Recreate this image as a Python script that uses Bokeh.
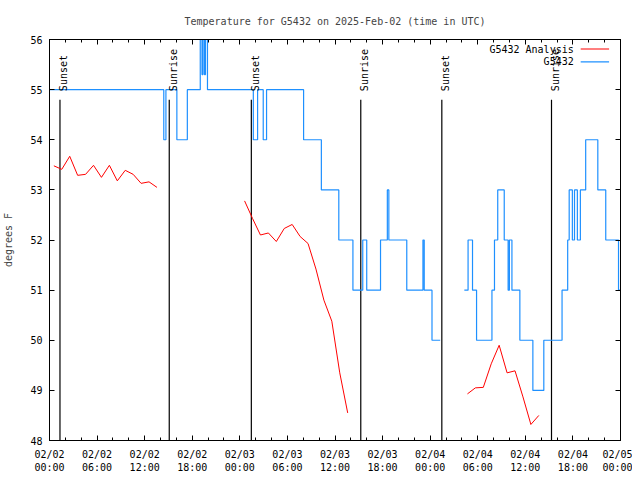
import math
from bokeh.plotting import figure
from bokeh.models import FixedTicker, LinearAxis, Label, Range1d
from bokeh.embed import file_html
from bokeh.resources import INLINE

# ---- data (time in hours since 2025-02-02 00:00 UTC) ----
tick_hours = [0, 6, 12, 18, 24, 30, 36, 42, 48, 54, 60, 66, 72]
tick_dates = ["02/02", "02/02", "02/02", "02/02", "02/03", "02/03", "02/03",
              "02/03", "02/04", "02/04", "02/04", "02/04", "02/05"]
tick_times = ["00:00", "06:00", "12:00", "18:00", "00:00", "06:00", "12:00",
              "18:00", "00:00", "06:00", "12:00", "18:00", "00:00"]
minor_hours = list(range(0, 73, 2))
y_ticks = [48, 49, 50, 51, 52, 53, 54, 55, 56]

# observations G5432 (step changes: time, value)
obs_t1 = [0.00, 14.41, 14.68, 16.06, 17.38, 19.01, 19.23, 19.35, 19.54, 19.67,
          19.92, 25.70, 26.24, 26.95, 27.37, 32.04, 34.28, 36.48, 38.26, 39.50,
          40.00, 41.74, 42.60, 42.79, 45.05, 47.09, 47.25, 48.23, 49.26]
obs_v1 = [55, 54, 55, 54, 55, 57, 55.3, 57, 55.3, 57,
          55, 54, 55, 54, 55, 54, 53, 52, 51, 52,
          51, 52, 53, 52, 51, 52, 51, 50, 50]
obs_t2 = [52.31, 52.78, 53.34, 53.85, 55.79, 56.11, 56.52, 57.34, 57.83, 57.99,
          58.31, 59.31, 60.95, 62.33, 64.63, 65.34, 65.53, 65.93, 66.20, 66.56,
          66.94, 67.61, 69.14, 70.14, 71.75, 72.00]
obs_v2 = [51, 52, 51, 50, 51, 52, 53, 52, 51, 52,
          51, 50, 49, 50, 51, 52, 53, 52, 53, 52,
          53, 54, 53, 52, 51, 51]

# analysis G5432 Analysis (hourly)
ana_t1 = [0.55, 1.55, 2.55, 3.55, 4.55, 5.55, 6.55, 7.55, 8.55, 9.55, 10.55,
          11.55, 12.55, 13.55]
ana_v1 = [53.48, 53.41, 53.67, 53.29, 53.31, 53.49, 53.25, 53.49, 53.18, 53.39,
          53.31, 53.13, 53.16, 53.05]
ana_t2 = [24.6, 25.6, 26.6, 27.6, 28.6, 29.6, 30.6, 31.6, 32.6, 33.6, 34.6,
          35.6, 36.6, 37.6]
ana_v2 = [52.78, 52.43, 52.10, 52.14, 51.97, 52.23, 52.31, 52.07, 51.93, 51.42,
          50.80, 50.38, 49.35, 48.55]
ana_t3 = [52.7, 53.7, 54.7, 55.7, 56.7, 57.7, 58.7, 59.7, 60.7, 61.7]
ana_v3 = [48.93, 49.05, 49.06, 49.53, 49.90, 49.35, 49.39, 48.87, 48.32, 48.50]

sun_t = [1.32, 15.10, 25.45, 39.25, 49.47, 63.30]
sun_lbl = ["Sunset", "Sunrise", "Sunset", "Sunrise", "Sunset", "Sunrise"]

FONT = "DejaVu Sans Mono"
FS = "10px"
RED = "#ff0000"
BLUE = "#1e90ff"

p = figure(width=632, height=475, output_backend="svg", toolbar_location=None,
           x_range=Range1d(0, 72), y_range=Range1d(48, 56),
           min_border_left=46, min_border_right=12, min_border_top=39,
           min_border_bottom=33,
           title="Temperature for G5432 on 2025-Feb-02 (time in UTC)")
p.title.text_font = FONT
p.title.text_font_size = FS
p.title.text_font_style = "normal"
p.title.align = "center"
p.title.standoff = 25

p.xgrid.visible = False
p.ygrid.visible = False
p.outline_line_color = "black"
p.outline_line_width = 1
p.background_fill_color = "white"
p.border_fill_color = "white"

xt = FixedTicker(ticks=tick_hours, minor_ticks=minor_hours)
yt = FixedTicker(ticks=y_ticks, minor_ticks=[])

bottom = p.xaxis[0]
left = p.yaxis[0]
bottom.ticker = xt
bottom.major_label_overrides = {h: d + "\n" + t for h, d, t in zip(tick_hours, tick_dates, tick_times)}
bottom.major_label_standoff = 8
bottom.major_label_text_font_size = FS
left.ticker = yt
left.axis_label = "degrees F"
left.axis_label_standoff = 13
left.major_label_standoff = 7
left.major_label_text_font_size = FS

top = LinearAxis(ticker=xt, major_label_overrides={h: "" for h in tick_hours},
                 major_label_text_font_size="1px", major_label_text_color=None,
                 major_label_standoff=0)
right = LinearAxis(ticker=yt, major_label_overrides={v: "" for v in y_ticks},
                   major_label_text_font_size="1px", major_label_text_color=None,
                   major_label_standoff=0)
p.add_layout(top, "above")
p.add_layout(right, "right")

for ax in (bottom, left, top, right):
    ax.axis_line_color = "black"
    ax.major_tick_in = 5
    ax.major_tick_out = 0
    ax.minor_tick_in = 3
    ax.minor_tick_out = 0
    ax.major_tick_line_color = "black"
    ax.minor_tick_line_color = "black"
    ax.major_label_text_font = FONT
    ax.axis_label_text_font = FONT
    ax.axis_label_text_font_size = FS
    ax.axis_label_text_font_style = "normal"
for ax in (bottom, left):
    ax.major_label_text_color = "black"

# sunrise / sunset markers
p.segment(x0=sun_t, y0=[48] * len(sun_t), x1=sun_t, y1=[54.8] * len(sun_t),
          line_color="black", line_width=1.2)
for t, s in zip(sun_t, sun_lbl):
    p.add_layout(Label(x=t, y=54.97, text=s, angle=math.pi / 2, text_font=FONT,
                       text_font_size=FS, text_align="left",
                       text_baseline="alphabetic", x_offset=4,
                       text_color="black"))

# data
p.line(ana_t1, ana_v1, line_color=RED, line_width=1)
p.line(ana_t2, ana_v2, line_color=RED, line_width=1)
p.line(ana_t3, ana_v3, line_color=RED, line_width=1)
p.step(obs_t1, obs_v1, mode="after", line_color=BLUE, line_width=1.2)
p.step(obs_t2, obs_v2, mode="after", line_color=BLUE, line_width=1.2)

# legend (gnuplot style: text then sample line)
leg_names = ["G5432 Analysis", "G5432"]
leg_cols = [RED, BLUE]
leg_y = [55.81, 55.555]
for name, col, yy in zip(leg_names, leg_cols, leg_y):
    p.add_layout(Label(x=66.1, y=yy, text=name, text_font=FONT, text_font_size=FS,
                       text_align="right", text_baseline="middle", text_color="black"))
    p.segment(x0=[66.98], y0=[yy], x1=[70.56], y1=[yy], line_color=col, line_width=1.2)

open("out.html", "w").write(file_html(p, INLINE))
